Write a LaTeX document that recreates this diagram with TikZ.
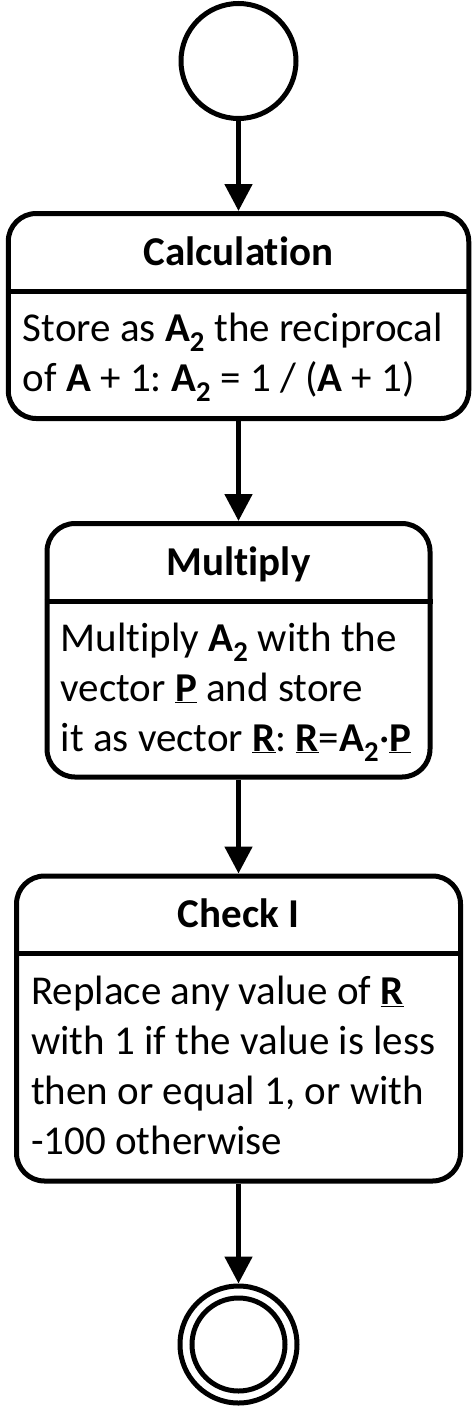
\documentclass[tikz,border=0pt]{standalone}
\usepackage{fontspec}
\setmainfont{Carlito}[Ligatures=NoCommon]
\usetikzlibrary{positioning,arrows.meta}
\frenchspacing

\newcommand{\Atwo}{\textbf{A\textsubscript{2}}}
\newcommand{\vecb}[1]{\underline{\textbf{#1}}}

\tikzset{
  initial state/.style={circle, draw, line width=5pt, minimum size=115pt, inner sep=0pt},
  final state/.style={circle, draw, line width=5pt, minimum size=117pt, inner sep=0pt},
  activity/.style={rectangle, draw, line width=5pt, rounded corners=28pt, inner sep=0pt},
  title/.style={font=\fontsize{41}{50}\selectfont\bfseries, inner sep=0pt, anchor=base},
  body/.style={font=\fontsize{41}{50}\selectfont, inner sep=0pt, align=left, anchor=base west},
  flow/.style={-{Triangle[width=27pt,length=27pt]}, line width=5pt},
  divider/.style={line width=5pt}
}

\begin{document}
\begin{tikzpicture}
  \useasboundingbox (0,0) rectangle (474pt,-1408pt);
  % states and activities
  \node[initial state] (start) at (238.5pt,-61pt) {};
  \node[activity, minimum width=460.5pt, minimum height=205pt, below=90pt of start] (calc) {};
  \node[activity, minimum width=383pt, minimum height=253.5pt, below=100pt of calc] (mult) {};
  \node[activity, minimum width=444pt, minimum height=305pt, below=94pt of mult] (check) {};
  \node[final state, below=100pt of check] (end) {};
  \draw[line width=5pt] (end.center) circle[radius=46.5pt];
  % titles
  \node[title] (calctitle) at ([yshift=-54pt]calc.north) {Calculation};
  \node[title] (multtitle) at ([yshift=-54pt]mult.north) {Multiply};
  \node[title] (checktitle) at ([yshift=-54pt]check.north) {Check I};
  % dividers
  \draw[divider] ([yshift=-80pt]calc.north west) -- ([yshift=-80pt]calc.north east);
  \draw[divider] ([yshift=-80pt]mult.north west) -- ([yshift=-80pt]mult.north east);
  \draw[divider] ([yshift=-80pt]check.north west) -- ([yshift=-80pt]check.north east);
  % texts (anchored at the last line)
  \node[body] (calctext) at ([xshift=17pt,yshift=-180pt]calc.north west)
    {Store as \Atwo{} the reciprocal\\of \textbf{A} + 1: \Atwo{} = 1 / (\textbf{A} + 1)};
  \node[body] (multtext) at ([xshift=16pt,yshift=-230pt]mult.north west)
    {Multiply \Atwo{} with the\\vector \vecb{P} and store\\it as vector \vecb{R}: \vecb{R}=\Atwo{}·\vecb{P}};
  \node[body] (checktext) at ([xshift=17pt,yshift=-281pt]check.north west)
    {Replace any value of \vecb{R}\\with 1 if the value is less\\then or equal 1, or with\\-100 otherwise};
  % flows
  \draw[flow] (start) -- (calc);
  \draw[flow] (calc) -- (mult);
  \draw[flow] (mult) -- (check);
  \draw[flow] (check) -- (end);
\end{tikzpicture}
\end{document}
